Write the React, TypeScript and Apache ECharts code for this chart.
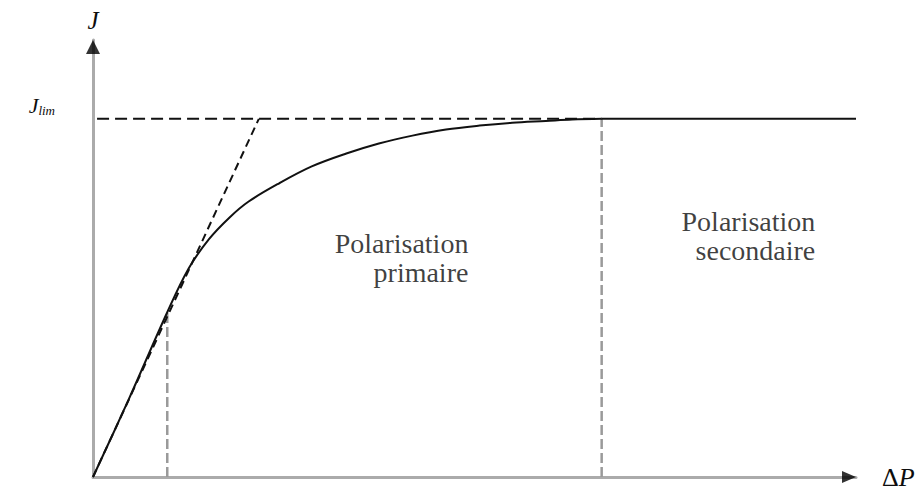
import React, { useEffect, useRef } from "react";
import * as echarts from "echarts";

// Normalised current density J (J_lim = 1) against pressure drop ΔP
const curveDeltaP = [0, 0.35, 0.73, 0.94, 1.14, 1.34, 1.53, 1.83, 2.15, 2.49, 2.81, 3.14, 3.47, 3.8, 4.12, 4.45, 4.71, 5.0];
const curveJ = [0, 0.216, 0.46, 0.582, 0.664, 0.724, 0.769, 0.82, 0.867, 0.903, 0.931, 0.953, 0.97, 0.981, 0.989, 0.994, 0.998, 1.0];
const jLim = 1;
const saturationDeltaP = 5.0; // end of primary polarisation
const tangentPointDeltaP = 0.73;
const tangentPointJ = 0.46;
const tangentEndDeltaP = 1.63; // initial slope reaching J_lim
const deltaPMax = 7.5;
const jMax = 1.22;
const regionNames = [
  ["Polarisation", "primaire"],
  ["Polarisation", "secondaire"],
];

const SERIF = "Liberation Serif";
const INK = "#0d0d0d";

export default function App() {
  const ref = useRef<HTMLDivElement>(null);

  useEffect(() => {
    if (!ref.current) return;
    const chart = echarts.init(ref.current, undefined, { renderer: "svg" });

    const curve = curveDeltaP.map((x, i) => [x, curveJ[i]]);
    const dashedBlack = { color: "#111", width: 2, type: [12, 6] as number[] };
    const dashedGrey = { color: "#9a9a9a", width: 2.5, type: [10, 4] as number[] };

    const lineSeries = (name: string, data: number[][], lineStyle: any, z = 3, smooth: any = false) => ({
      name,
      type: "line",
      data,
      symbol: "none",
      silent: true,
      clip: false,
      smooth,
      z,
      lineStyle,
    });

    chart.setOption({
      animation: false,
      backgroundColor: "#ffffff",
      grid: { left: 93, right: 66, top: 40, bottom: 9 },
      xAxis: {
        type: "value",
        min: 0,
        max: deltaPMax,
        name: "{d|Δ}{p|P}",
        nameLocation: "end",
        nameGap: 26,
        nameTextStyle: {
          rich: {
            d: { fontFamily: SERIF, fontSize: 26, color: INK },
            p: { fontFamily: SERIF, fontSize: 26, fontStyle: "italic", color: INK },
          },
        },
        axisLine: { lineStyle: { color: "#ababab", width: 3 } },
        axisTick: { show: false },
        axisLabel: { show: false },
        splitLine: { show: false },
      },
      yAxis: {
        type: "value",
        min: 0,
        max: jMax,
        interval: 0.5,
        name: "J",
        nameLocation: "end",
        nameGap: 7,
        nameTextStyle: {
          fontFamily: SERIF,
          fontSize: 25,
          fontStyle: "italic",
          color: INK,
          align: "center",
        },
        axisLine: { lineStyle: { color: "#ababab", width: 3 } },
        axisTick: { show: false },
        splitLine: { show: false },
        axisLabel: {
          customValues: [jLim],
          margin: 38,
          verticalAlign: "bottom",
          padding: [0, 0, 2, 0],
          formatter: (v: number) => (Math.abs(v - jLim) < 1e-9 ? "{j|J}{s|lim}" : ""),
          rich: {
            j: { fontFamily: SERIF, fontSize: 22, fontStyle: "italic", color: INK, verticalAlign: "bottom" },
            s: { fontFamily: SERIF, fontSize: 13, fontStyle: "italic", color: INK, verticalAlign: "bottom" },
          },
        },
      },
      series: [
        lineSeries("courbe", curve, { color: "#111", width: 2 }, 4, 0.35),
        lineSeries("palier", [[saturationDeltaP, jLim], [deltaPMax, jLim]], { color: "#111", width: 2 }, 4),
        lineSeries("jlim", [[0.04, jLim], [saturationDeltaP, jLim]], dashedBlack),
        lineSeries("tangente", [[0, 0], [tangentEndDeltaP, jLim]], { color: "#111", width: 2, type: [8, 5] }),
        lineSeries("repere1", [[tangentPointDeltaP, 0], [tangentPointDeltaP, tangentPointJ]], dashedGrey, 2),
        lineSeries("repere2", [[saturationDeltaP, 0], [saturationDeltaP, jLim]], dashedGrey, 2),
        {
          name: "fleches",
          type: "scatter",
          silent: true,
          clip: false,
          z: 6,
          data: [
            { value: [0, jMax], symbolSize: [14, 14], symbolOffset: [0, 7], symbolRotate: 0 },
            { value: [deltaPMax, 0], symbolSize: [12, 14], symbolOffset: [-7, 0], symbolRotate: -90 },
          ],
          symbol: "triangle",
          itemStyle: { color: "#000" },
        },
        {
          // region captions, right-aligned on their anchor
          name: "regions",
          type: "scatter",
          silent: true,
          clip: false,
          symbolSize: 0,
          z: 7,
          data: [
            { name: regionNames[0].join(" "), value: [3.69, 0.611], lines: regionNames[0] },
            { name: regionNames[1].join(" "), value: [7.1, 0.672], lines: regionNames[1] },
          ],
          label: {
            show: true,
            position: [0, 0],
            align: "right",
            verticalAlign: "middle",
            formatter: (p: any) => p.data.lines.map((t: string) => `{r|${t}}`).join("\n"),
            rich: {
              r: {
                fontFamily: SERIF,
                fontSize: 28,
                lineHeight: 29,
                color: INK,
                align: "right",
              },
            },
          },
        },
      ],
    });

    return () => chart.dispose();
  }, []);

  return (
    <div
      ref={ref}
      style={{ position: "fixed", left: 0, top: 0, width: 922, height: 490, background: "#fff" }}
    />
  );
}
